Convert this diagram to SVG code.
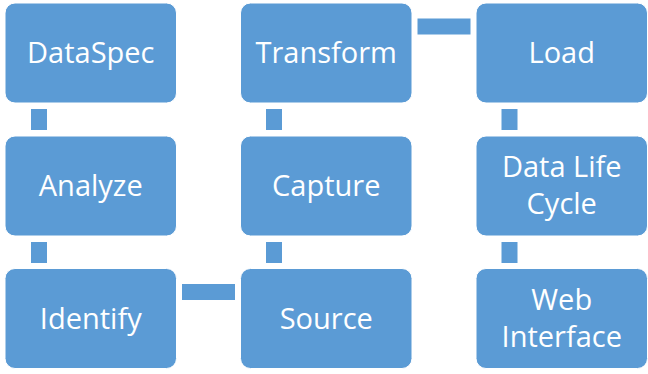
<svg xmlns="http://www.w3.org/2000/svg" width="648" height="374" viewBox="0 0 648 374">
<style>
.box{fill:#5B9BD5;stroke:#ffffff;stroke-width:1}
.con{fill:#5B9BD5}
.t{font-family:"Open Sans","Liberation Sans",sans-serif;font-size:29px;fill:#ffffff;text-anchor:middle}
</style>
<rect width="648" height="374" fill="#ffffff"/>
<g id="connectors">
<rect class="con" x="31" y="109" width="16" height="21"/>
<rect class="con" x="31" y="242" width="16" height="21"/>
<rect class="con" x="266" y="109" width="16" height="21"/>
<rect class="con" x="266" y="242" width="16" height="21"/>
<rect class="con" x="501.5" y="109" width="16" height="21"/>
<rect class="con" x="501.5" y="242" width="16" height="21"/>
<rect class="con" x="182" y="284" width="53" height="16"/>
<rect class="con" x="417.5" y="18.5" width="53" height="16"/>
</g>
<g id="dataspec"><rect class="box" x="5" y="3" width="171.5" height="100" rx="10"/><text class="t" x="90.75" y="63">DataSpec</text></g>
<g id="analyze"><rect class="box" x="5" y="136" width="171.5" height="100" rx="10"/><text class="t" x="90.75" y="196">Analyze</text></g>
<g id="identify"><rect class="box" x="5" y="268.5" width="171.5" height="100" rx="10"/><text class="t" x="90.75" y="328.5">Identify</text></g>
<g id="transform"><rect class="box" x="240.5" y="3" width="171.5" height="100" rx="10"/><text class="t" x="326.25" y="63">Transform</text></g>
<g id="capture"><rect class="box" x="240.5" y="136" width="171.5" height="100" rx="10"/><text class="t" x="326.25" y="196">Capture</text></g>
<g id="source"><rect class="box" x="240.5" y="268.5" width="171.5" height="100" rx="10"/><text class="t" x="326.25" y="328.5">Source</text></g>
<g id="load"><rect class="box" x="476" y="3" width="171.5" height="100" rx="10"/><text class="t" x="561.75" y="63">Load</text></g>
<g id="datalifecycle"><rect class="box" x="476" y="136" width="171.5" height="100" rx="10"/><text class="t" x="561.75" y="177">Data Life</text><text class="t" x="561.75" y="213.5">Cycle</text></g>
<g id="webinterface"><rect class="box" x="476" y="268.5" width="171.5" height="100" rx="10"/><text class="t" x="561.75" y="310">Web</text><text class="t" x="561.75" y="346.5">Interface</text></g>
</svg>
